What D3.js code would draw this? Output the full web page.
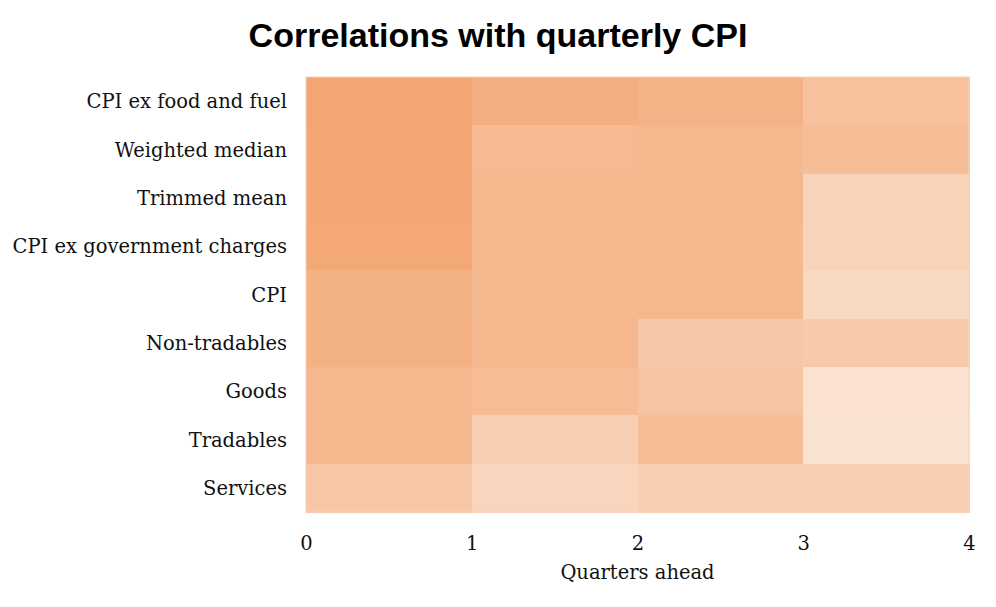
<!DOCTYPE html>
<html>
<head>
<meta charset="utf-8">
<script src="https://cdn.jsdelivr.net/npm/d3@7"></script>
<style>
  body { margin: 0; background: #fff; }
</style>
</head>
<body>
<div id="chart"></div>
<script>
// rows top to bottom, columns = quarters ahead (0-1, 1-2, 2-3, 3-4)
let measures = ["CPI ex food and fuel", "Weighted median", "Trimmed mean",
  "CPI ex government charges", "CPI", "Non-tradables", "Goods", "Tradables", "Services"];
let quarterTicks = [0, 1, 2, 3, 4];
let corrQ0 = [0.80, 0.79, 0.79, 0.78, 0.70, 0.70, 0.64, 0.64, 0.51];
let corrQ1 = [0.72, 0.62, 0.64, 0.63, 0.63, 0.65, 0.60, 0.43, 0.375];
let corrQ2 = [0.69, 0.63, 0.64, 0.63, 0.65, 0.50, 0.53, 0.59, 0.43];
let corrQ3 = [0.56, 0.59, 0.40, 0.40, 0.35, 0.48, 0.27, 0.25, 0.43];

let width = 996, height = 607;
let margin = {left: 306, right: 27, top: 77, bottom: 95};

let cells = [];
[corrQ0, corrQ1, corrQ2, corrQ3].forEach(function(col, q){
  col.forEach(function(v, i){
    cells.push({measure: measures[i], q: q, value: v});
  });
});

let svg = d3.select("#chart").append("svg")
  .attr("width", width)
  .attr("height", height);

let x = d3.scaleLinear()
  .domain([0, 4])
  .range([margin.left, width - margin.right]);

let y = d3.scaleBand()
  .domain(measures)
  .range([margin.top, height - margin.bottom]);

let color = d3.scaleLinear()
  .domain([0, 1])
  .range(["#ffffff", "#ef904f"]);

svg.append("text")
  .attr("x", 498)
  .attr("y", 47)
  .attr("text-anchor", "middle")
  .style("font-family", "Liberation Sans, Arial, sans-serif")
  .style("font-weight", "bold")
  .style("font-size", "34px")
  .text("Correlations with quarterly CPI");

svg.selectAll("rect.cell").data(cells)
  .enter()
    .append("rect")
    .attr("class", "cell")
    .attr("x", d => x(d.q))
    .attr("y", d => y(d.measure))
    .attr("width", d => x(d.q + 1) - x(d.q) + 0.5)
    .attr("height", y.bandwidth() + 0.5)
    .attr("fill", d => color(d.value))
    .attr("shape-rendering", "crispEdges")
;

// faint frame round the plot
svg.append("rect")
  .attr("x", x(0))
  .attr("y", margin.top)
  .attr("width", x(4) - x(0))
  .attr("height", height - margin.bottom - margin.top)
  .attr("fill", "none")
  .attr("stroke", "#f6d2b8")
  .attr("stroke-width", 1);

let serif = "'DejaVu Serif', serif";

let yAxis = svg.append("g")
  .attr("transform", "translate(" + (margin.left - 19) + ",1)")
  .call(d3.axisLeft(y).tickSize(0).tickPadding(0));
yAxis.select(".domain").remove();
yAxis.selectAll("text")
  .style("font-family", serif)
  .style("font-size", "19.5px")
  .attr("fill", "#111");

let xAxis = svg.append("g")
  .attr("transform", "translate(0," + (height - margin.bottom + 20) + ")")
  .call(d3.axisBottom(x).tickValues(quarterTicks).tickSize(0).tickPadding(4).tickFormat(d3.format("d")));
xAxis.select(".domain").remove();
xAxis.selectAll("text")
  .style("font-family", serif)
  .style("font-size", "19.5px")
  .attr("fill", "#111");

svg.append("text")
  .attr("x", x(2))
  .attr("y", 579)
  .attr("text-anchor", "middle")
  .style("font-family", serif)
  .style("font-size", "19.5px")
  .attr("fill", "#111")
  .text("Quarters ahead");
</script>
</body>
</html>
